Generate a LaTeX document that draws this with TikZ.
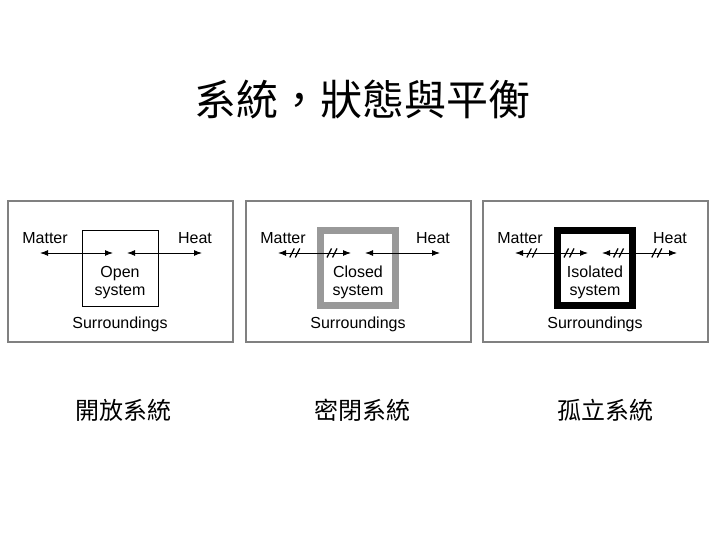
\documentclass[tikz,border=0pt]{standalone}
\usepackage{fontspec}
\setmainfont{Liberation Sans}
\newfontfamily\cjk{Noto Sans CJK TC}
\usetikzlibrary{arrows.meta,positioning,calc}

\tikzset{
  panel/.style={draw=black!50, line width=1.8pt, minimum width=225pt, minimum height=141pt, inner sep=0pt},
  opensys/.style={draw=black, line width=0.9pt, minimum size=76pt, inner sep=0pt},
  closedsys/.style={draw=black!40, line width=7pt, minimum size=75pt, inner sep=0pt},
  isolatedsys/.style={draw=black, line width=7pt, minimum size=75pt, inner sep=0pt},
  flow/.style={{Latex[length=8pt,width=6pt]}-{Latex[length=8pt,width=6pt]}, line width=1pt},
  lbl/.style={font=\fontsize{16}{17.5}\selectfont, inner sep=0pt, align=center},
  cut/.pic={\draw[line width=1.2pt] (-5,4.5) -- (-0.5,-4.5) (0.5,4.5) -- (5,-4.5);}
}

\begin{document}
\begin{tikzpicture}[x=1pt, y=-1pt]
  \useasboundingbox (0,0) rectangle (720,540);

  % Title
  \node[font=\cjk\fontsize{42}{42}\selectfont] (title) at (362,100) {系統，狀態與平衡};

  % Three panels: open, closed, isolated
  \foreach \i/\x/\sty/\txt/\cx/\cap in {1/0/opensys/{Open\\system}/123/開放系統,
      2/238/closedsys/{Closed\\system}/362/密閉系統,
      3/475/isolatedsys/{Isolated\\system}/605/孤立系統} {
    \node[panel] (frame\i) at (\x+120.5,271.5) {};
    \node[\sty] (sys\i) at (\x+120,268) {};
    \node[lbl] (name\i) at (\x+120,282.5) {\txt};
    \node[lbl] (surr\i) at (\x+120,324) {Surroundings};
    \node[lbl] (matter\i) at (\x+45,238) {Matter};
    \node[lbl] (heat\i) at (\x+195,238) {Heat};
    % arrow ends
    \coordinate (ml\i) at (\x+40,253);
    \coordinate (mr\i) at (\x+113,253);
    \coordinate (hl\i) at (\x+127,253);
    \coordinate (hr\i) at (\x+202,253);
    \draw[flow] (ml\i) -- (mr\i);
    \draw[flow] (hl\i) -- (hr\i);
    \node[font=\cjk\fontsize{24}{24}\selectfont] (cap\i) at (\cx,410) {\cap};
  }

  % Blocked flows
  \pic at ($(ml2)!0.23!(mr2)$) {cut};
  \pic at ($(ml2)!0.74!(mr2)$) {cut};
  \pic at ($(ml3)!0.23!(mr3)$) {cut};
  \pic at ($(ml3)!0.74!(mr3)$) {cut};
  \pic at ($(hl3)!0.22!(hr3)$) {cut};
  \pic at ($(hl3)!0.73!(hr3)$) {cut};
\end{tikzpicture}
\end{document}
